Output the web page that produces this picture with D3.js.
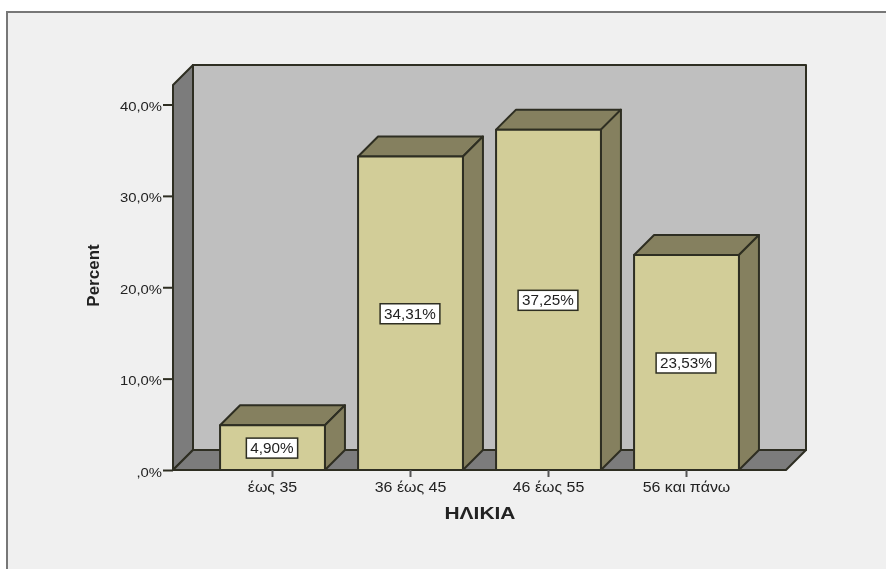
<!DOCTYPE html>
<html><head><meta charset="utf-8">
<script src="https://cdn.jsdelivr.net/npm/d3@7/dist/d3.min.js"></script>
<style>html,body{margin:0;padding:0;background:#fff}svg{display:block}text{font-family:"Liberation Sans",Arial,sans-serif;fill:#222}</style>
</head><body><svg id="c" width="886" height="569"></svg>
<script>
const categories = ["έως 35","36 έως 45","46 έως 55","56 και πάνω"];
const percentValues = [4.90,34.31,37.25,23.53];
const valueLabels = ["4,90%","34,31%","37,25%","23,53%"];
const yTicks = [0,10,20,30,40];
const yTickLabels = [",0%","10,0%","20,0%","30,0%","40,0%"];
const xTitle = "ΗΛΙΚΙΑ", yTitle = "Percent";

const W=886,H=569, depth=20, lineCol="#2e2e22";
const svg=d3.select("#c");
const defs=svg.append("defs");
defs.append("filter").attr("id","soft").attr("x",0).attr("y",0).attr("width","100%").attr("height","100%")
  .append("feGaussianBlur").attr("stdDeviation",0.4);
const root=svg.append("g").attr("filter","url(#soft)");
root.append("rect").attr("width",W).attr("height",H).attr("fill","#fff");
root.append("rect").attr("x",7).attr("y",12).attr("width",W).attr("height",H).attr("fill","#f0f0f0").attr("stroke","#777").attr("stroke-width",2);

const stretch=(sel,k)=>sel.each(function(){
  const len=this.getComputedTextLength();
  d3.select(this).attr("textLength",len*k).attr("lengthAdjust","spacingAndGlyphs");
});

const y=d3.scaleLinear().domain([0,40]).range([470,104.5]);
const x=d3.scaleBand().domain(categories).range([203.5,755.5]).paddingInner(0.24).paddingOuter(0.12);
const L=173,R=786,T=y(40)-39.5,B=y(0);
const poly=(pts,fill)=>root.append("polygon").attr("points",pts.map(p=>p.join(",")).join(" ")).attr("fill",fill).attr("stroke",lineCol).attr("stroke-width",2).attr("stroke-linejoin","round");

// walls
poly([[L+depth,T],[R+depth,T],[R+depth,B-depth],[L+depth,B-depth]],"#bfbfbf");
poly([[L,T+depth],[L+depth,T],[L+depth,B-depth],[L,B]],"#7b7b7b");
poly([[L,B],[L+depth,B-depth],[R+depth,B-depth],[R,B]],"#7b7b7b");

// bars
categories.forEach((c,i)=>{
  const x0=x(c),x1=x0+x.bandwidth(),t=y(percentValues[i]);
  poly([[x0,t],[x0+depth,t-depth],[x1+depth,t-depth],[x1,t]],"#85805e");
  poly([[x1,t],[x1+depth,t-depth],[x1+depth,B-depth],[x1,B]],"#85805e");
  poly([[x0,t],[x1,t],[x1,B],[x0,B]],"#d2cd98");
});

// axes
const yAxis=d3.axisLeft(y).tickValues(yTicks).tickFormat((d,i)=>yTickLabels[i]).tickSize(10).tickPadding(1);
const ga=root.append("g").attr("transform",`translate(${L},0)`).call(yAxis);
ga.select(".domain").remove();
ga.selectAll("line").attr("stroke",lineCol).attr("stroke-width",2);
ga.selectAll("text").attr("font-size",13.5).attr("dy","0.45em").call(stretch,1.1);
const xAxis=d3.axisBottom(x).tickSize(7).tickPadding(5);
const gx=root.append("g").attr("transform",`translate(0,${B})`).call(xAxis);
gx.select(".domain").remove();
gx.selectAll("line").attr("stroke","#555").attr("stroke-width",2);
gx.selectAll("text").attr("font-size",14).call(stretch,1.14);

// value labels
categories.forEach((c,i)=>{
  const cx=x(c)+x.bandwidth()/2-0.5, cy=(y(percentValues[i])+B)/2+0.5;
  const box=root.append("rect").attr("y",cy-10).attr("height",20).attr("fill","#fff").attr("stroke",lineCol).attr("stroke-width",1.5);
  const t=root.append("text").attr("x",cx).attr("y",cy+5).attr("text-anchor","middle").attr("font-size",14).text(valueLabels[i]);
  const w=t.node().getComputedTextLength()*1.09;
  t.attr("textLength",w).attr("lengthAdjust","spacingAndGlyphs");
  box.attr("x",cx-w/2-4).attr("width",w+8);
});

root.append("text").attr("x",480).attr("y",519).attr("text-anchor","middle").attr("font-size",16.5).attr("font-weight","bold").text(xTitle).call(stretch,1.27);
root.append("text").attr("transform","translate(99,275.5) rotate(-90)").attr("text-anchor","middle").attr("font-size",17).attr("font-weight","bold").text(yTitle);
</script></body></html>
